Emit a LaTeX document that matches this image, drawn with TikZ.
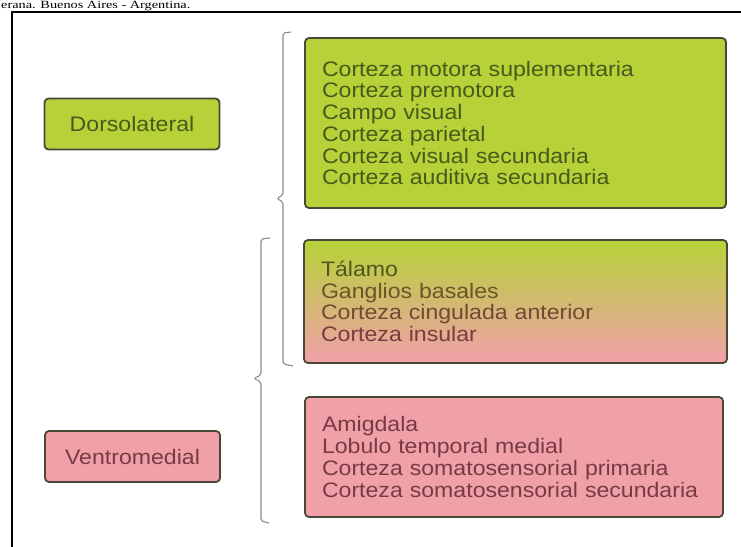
\documentclass[tikz,border=0pt]{standalone}
\usepackage{fontspec}
\setmainfont{Liberation Sans}[FakeStretch=1.1]
\newfontfamily\capfont{Liberation Serif}[FakeStretch=1.3]
\definecolor{boxgreen}{HTML}{B6D238}
\definecolor{boxpink}{HTML}{F0A0A9}
\definecolor{boxedge}{HTML}{4A4738}
\definecolor{txtgreen}{HTML}{4A581C}
\definecolor{txtmid}{HTML}{6A5428}
\definecolor{txtpink}{HTML}{783C40}
\definecolor{bracegray}{HTML}{8C8C8C}
\begin{document}
\begin{tikzpicture}[x=1pt,y=-1pt,
  listbox/.style={draw=boxedge, line width=1.8pt, rounded corners=4pt, inner xsep=17pt,
    align=left, font=\fontsize{21}{21.7}\selectfont, anchor=center},
  labbox/.style={draw=boxedge, line width=1.8pt, rounded corners=4pt, inner sep=0pt,
    minimum width=175pt, minimum height=51pt, font=\fontsize{21}{24}\selectfont, anchor=center},
  bracestyle/.style={draw=bracegray, line width=1.1pt, rounded corners=2pt}]
\useasboundingbox (0,0) rectangle (741,546);
\clip (0,0) rectangle (741,546);
\fill[white] (0,0) rectangle (741,546);
% caption fragment at the top
\node[anchor=base west, inner sep=0pt, font=\capfont\fontsize{11}{11}\selectfont] (src) at (1,9)
  {erana. Buenos Aires - Argentina.};
% frame
\draw[line width=2pt] (12,570) -- (12,12) -- (770,12);
% label boxes
\node[labbox, fill=boxgreen, text=txtgreen] (dorso) at (132,124) {Dorsolateral};
\node[labbox, fill=boxpink, text=txtpink] (ventro) at (132.5,456.5) {Ventromedial};
% list boxes
\node[listbox, fill=boxgreen, text=txtgreen, text width=387pt, minimum height=170pt] (g1) at (515.5,123)
  {Corteza motora suplementaria\\Corteza premotora\\Campo visual\\Corteza parietal\\Corteza visual secundaria\\Corteza auditiva secundaria};
\node[listbox, top color=boxgreen, bottom color=boxpink, text width=389pt, minimum height=123pt] (g2) at (515.5,301.5)
  {\color{txtgreen!80!txtmid}Tálamo\\\color{txtmid}Ganglios basales\\\color{txtmid!60!txtpink}Corteza cingulada anterior\\\color{txtpink}Corteza insular};
\node[listbox, fill=boxpink, text=txtpink, text width=384pt, minimum height=120pt] (g3) at (514,457)
  {Amigdala\\Lobulo temporal medial\\Corteza somatosensorial primaria\\Corteza somatosensorial secundaria};
% braces
\draw[bracestyle] (291,32) -- (283,33) -- (283,195) -- (277,198.5) -- (283,202) -- (283,364) -- (293,366);
\draw[bracestyle] (270,238) -- (261,239) -- (261,375) -- (254,378.5) -- (261,382) -- (261,521) -- (269,523);
\end{tikzpicture}
\end{document}
